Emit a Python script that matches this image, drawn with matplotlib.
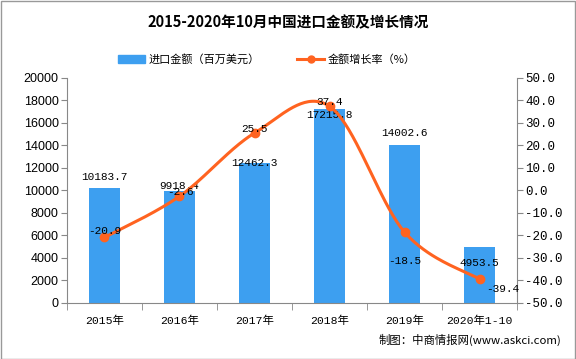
import numpy as np
import matplotlib
matplotlib.use("Agg")
import matplotlib.pyplot as plt
from matplotlib.lines import Line2D
from matplotlib.patches import Patch, Rectangle

plt.rcParams['font.family'] = ['Noto Sans CJK SC', 'DejaVu Sans']
MONO = ['Liberation Mono', 'Noto Sans CJK SC']
SANS = ['Liberation Sans', 'Noto Sans CJK SC']

categories = ["2015年", "2016年", "2017年", "2018年", "2019年", "2020年1-10"]
imports = [10183.7, 9918.4, 12462.3, 17215.8, 14002.6, 4953.5]
growth = [-20.9, -2.6, 25.5, 37.4, -18.5, -39.4]
left_ticks = list(range(0, 20001, 2000))
right_ticks = [-50, -40, -30, -20, -10, 0, 10, 20, 30, 40, 50]

bar_color = "#3d9ff0"
line_color = "#ff6320"
axis_color = "#888888"

fig = plt.figure(figsize=(5.76, 3.59), dpi=100)
fig.patch.set_facecolor("white")
fig.add_artist(Rectangle((0.001, 0.001), 0.997, 0.996, transform=fig.transFigure,
                         fill=False, edgecolor="#999999", lw=1.0))

ax = fig.add_axes([0.1163, 0.156, 0.7813, 0.627])
x = np.arange(len(categories))
ax.bar(x, imports, width=0.41, color=bar_color, zorder=2)
ax.set_xlim(-0.5, len(categories) - 0.5)
ax.set_ylim(0, 20000)
ax.set_yticks(left_ticks)
ax.set_yticklabels([str(t) for t in left_ticks], fontsize=9, family=SANS)
ax.set_xticks(x)
ax.set_xticklabels(categories, fontsize=8.2, family=MONO)
ax.set_xticks(np.arange(-0.5, len(categories), 1.0), minor=True)
ax.tick_params(axis='x', which='major', length=0, pad=9)
ax.tick_params(axis='x', which='minor', length=5, color=axis_color)
ax.tick_params(axis='y', length=4, color=axis_color, pad=2)
for s in ['top', 'right']:
    ax.spines[s].set_visible(False)
for s in ['left', 'bottom']:
    ax.spines[s].set_color(axis_color)

ax2 = ax.twinx()
ax2.set_ylim(-50, 50)
ax2.set_yticks(right_ticks)
ax2.set_yticklabels([f"{t:.1f}" for t in right_ticks], fontsize=9, family=MONO)
ax2.tick_params(axis='y', length=4, color=axis_color, pad=2)
for s in ['top', 'left', 'bottom']:
    ax2.spines[s].set_visible(False)
ax2.spines['right'].set_color(axis_color)

# Smooth line (Catmull-Rom style Bezier like Excel smoothing)
px = x.astype(float)
py = np.array(growth, dtype=float)
xs, ys = [], []
n = len(px)
for i in range(n - 1):
    p0 = (px[max(i - 1, 0)], py[max(i - 1, 0)])
    p1 = (px[i], py[i])
    p2 = (px[i + 1], py[i + 1])
    p3 = (px[min(i + 2, n - 1)], py[min(i + 2, n - 1)])
    c1 = (p1[0] + (p2[0] - p0[0]) / 6, p1[1] + (p2[1] - p0[1]) / 6)
    c2 = (p2[0] - (p3[0] - p1[0]) / 6, p2[1] - (p3[1] - p1[1]) / 6)
    t = np.linspace(0, 1, 40)
    bx = (1 - t) ** 3 * p1[0] + 3 * (1 - t) ** 2 * t * c1[0] + 3 * (1 - t) * t ** 2 * c2[0] + t ** 3 * p2[0]
    by = (1 - t) ** 3 * p1[1] + 3 * (1 - t) ** 2 * t * c1[1] + 3 * (1 - t) * t ** 2 * c2[1] + t ** 3 * p2[1]
    xs.extend(bx)
    ys.extend(by)
ax2.plot(xs, ys, color=line_color, lw=2.2, zorder=3)
ax2.plot(px, py, 'o', color=line_color, ms=6, zorder=4)

# bar labels (offsets in points, label centre relative to bar top)
bar_offsets = [8, 4, 0, -4, 9, -11]
for i, v in enumerate(imports):
    ax.annotate(f"{v}", (x[i], v), xytext=(0, bar_offsets[i]), textcoords='offset points',
                ha='center', va='center', fontsize=8, family=MONO, zorder=5)

line_offsets = [(0, 5), (1, 3), (0, 3), (0, 3), (0, -21), (17, -7)]
for i, v in enumerate(growth):
    dx, dy = line_offsets[i]
    ax2.annotate(f"{v}", (x[i], v), xytext=(dx, dy), textcoords='offset points',
                 ha='center', va='center', fontsize=8, family=MONO, zorder=5)

fig.text(0.5, 0.937, "2015-2020年10月中国进口金额及增长情况", ha='center', va='center',
         fontsize=10.5, fontweight='bold')

handles = [Patch(color=bar_color, label="进口金额（百万美元）"),
           Line2D([0], [0], color=line_color, lw=2.2, marker='o', ms=5, label="金额增长率（%）")]
fig.legend(handles=handles, loc='center', bbox_to_anchor=(0.463, 0.835), ncol=2, frameon=False,
           fontsize=8, handlelength=2.5, columnspacing=3.3, handletextpad=0.3)

fig.text(0.975, 0.053, "制图：中商情报网(www.askci.com)", ha='right', va='center', fontsize=8.2)

fig.savefig("out.png", dpi=100, facecolor="white")
